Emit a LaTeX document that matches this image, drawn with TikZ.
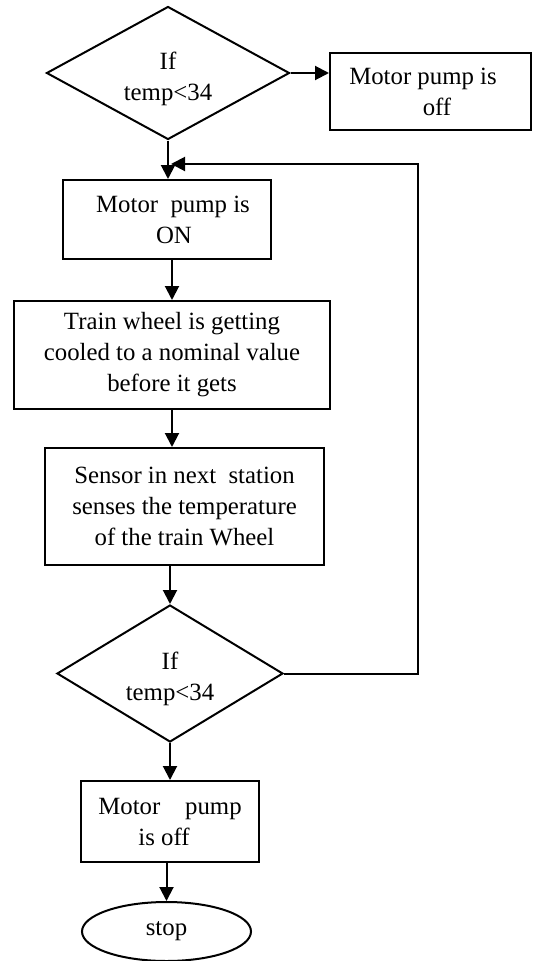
\documentclass[tikz,border=0pt]{standalone}
\usepackage{fontspec}
\setmainfont{Liberation Serif}
\usetikzlibrary{shapes.geometric,arrows.meta}
\begin{document}
\begin{tikzpicture}[x=1pt,y=-1pt,
  every node/.style={font=\fontsize{24.8}{31}\selectfont},
  box/.style={draw,line width=2pt,rectangle,inner sep=0pt,align=center},
  dec/.style={draw,line width=2pt,diamond,inner sep=0pt},
  term/.style={draw,line width=2pt,ellipse,inner sep=0pt},
  txt/.style={align=center,inner sep=0pt},
  arr/.style={line width=2pt,-{Triangle[length=14pt,width=14pt]}}]
\path[use as bounding box] (0,0) rectangle (533,961);
% nodes
\node[dec,minimum width=243pt,minimum height=133pt] (d1) at (168,73) {};
\node[txt] (d1t) at (168,79) {If\\temp<34};
\node[box,minimum width=201pt,minimum height=77pt] (off1) at (430.5,91.5)
  {Motor pump is\hspace*{15pt}\\\hspace*{13pt}off};
\node[box,minimum width=208pt,minimum height=79pt] (on) at (167,219.5)
  {\hspace*{12pt}Motor\ \ pump is\\\hspace*{14pt}ON};
\node[box,minimum width=316pt,minimum height=108pt] (train) at (172,355)
  {Train wheel is getting\\cooled to a nominal value\\before it gets};
\node[box,minimum width=279pt,minimum height=117pt] (sensor) at (184.5,506.5)
  {Sensor in next\ \ station\\senses the temperature\\of the train Wheel};
\node[dec,minimum width=226pt,minimum height=137pt] (d2) at (170,673.5) {};
\node[txt] (d2t) at (170,679) {If\\temp<34};
\node[box,minimum width=178pt,minimum height=81pt] (off2) at (170,821.5)
  {Motor\quad pump\\is off\hspace*{12pt}};
\node[term,minimum width=169pt,minimum height=59pt] (stop) at (166.5,931.5) {stop};
% connectors
\draw[arr] (d1.south) -- (d1.south |- on.north);
\draw[arr] (d1.east) -- (d1.east -| off1.west);
\draw[arr] (on.south -| train.north) -- (train.north);
\draw[arr] (train.south) -- (train.south |- sensor.north);
\draw[arr] (sensor.south -| d2.north) -- (d2.north);
\draw[arr] (d2.south) -- (d2.south |- off2.north);
\draw[arr] (stop.north |- off2.south) -- (stop.north);
\coordinate (loop) at (418,164);
\coordinate (join) at (171,164);
\draw[arr] (d2.east) -| (loop) -- (join);
\end{tikzpicture}
\end{document}
